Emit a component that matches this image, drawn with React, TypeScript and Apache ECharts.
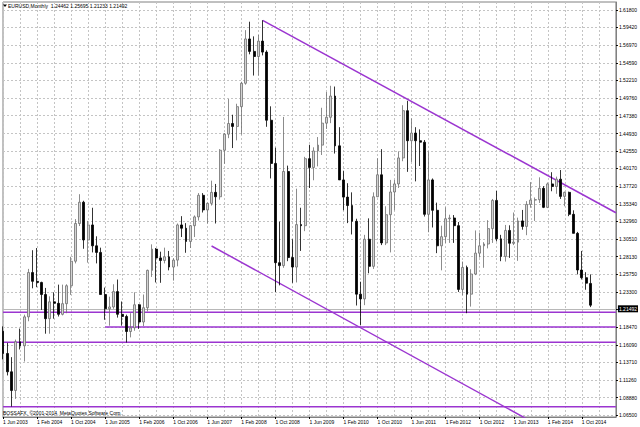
import React, { useEffect, useRef } from 'react';
import * as echarts from 'echarts';

const monthNames = ['Jan', 'Feb', 'Mar', 'Apr', 'May', 'Jun', 'Jul', 'Aug', 'Sep', 'Oct', 'Nov', 'Dec'];
// Monthly slots from Jun 2003 (incl. empty chart-shift slots after Dec 2014)
const categories: string[] = [];
for (let i = 0; i < 145; i++) {
  const m = (5 + i) % 12;
  const y = 2003 + Math.floor((5 + i) / 12);
  categories.push(`1 ${monthNames[m]} ${y}`);
}

const xTickLabels = ['1 Jun 2003', '1 Feb 2004', '1 Oct 2004', '1 Jun 2005', '1 Feb 2006', '1 Oct 2006', '1 Jun 2007', '1 Feb 2008', '1 Oct 2008', '1 Jun 2009', '1 Feb 2010', '1 Oct 2010', '1 Jun 2011', '1 Feb 2012', '1 Oct 2012', '1 Jun 2013', '1 Feb 2014', '1 Oct 2014'];
const yTickLabels = ['1.06500', '1.08880', '1.11260', '1.13710', '1.16090', '1.18470', '1.20920', '1.23300', '1.25750', '1.28130', '1.30510', '1.32960', '1.35340', '1.37720', '1.40170', '1.42550', '1.44930', '1.47380', '1.49760', '1.52210', '1.54590', '1.56970', '1.59420', '1.61800'];

const opens = [
  1.1795, 1.1490, 1.1240, 1.0985, 1.1650, 1.1595, 1.1990,
  1.2595, 1.2475, 1.2460, 1.2295, 1.1965, 1.2195, 1.2175, 1.2025, 1.2170, 1.2415, 1.2750, 1.3265,
  1.3555, 1.3040, 1.3245, 1.2960, 1.2870, 1.2295, 1.2100, 1.2125, 1.2335, 1.2025, 1.1995, 1.1790,
  1.1840, 1.2155, 1.1920, 1.2115, 1.2625, 1.2915, 1.2795, 1.2760, 1.2810, 1.2670, 1.2765, 1.3245,
  1.3200, 1.3020, 1.3235, 1.3355, 1.3650, 1.3450, 1.3540, 1.3690, 1.3630, 1.4265, 1.4485, 1.4630,
  1.4590, 1.4860, 1.5180, 1.5785, 1.5615, 1.5545, 1.5755, 1.5605, 1.4675, 1.4085, 1.2730, 1.2690,
  1.3975, 1.2800, 1.2670, 1.3250, 1.3235, 1.4150, 1.4030, 1.4255, 1.4335, 1.4635, 1.4715, 1.5005,
  1.4325, 1.3860, 1.3625, 1.3510, 1.3295, 1.2300, 1.2235, 1.3050, 1.2680, 1.3630, 1.3930, 1.3000,
  1.3385, 1.3695, 1.3805, 1.4160, 1.4805, 1.4395, 1.4500, 1.4395, 1.4375, 1.3390, 1.3860, 1.3445,
  1.2960, 1.3085, 1.3330, 1.3340, 1.3235, 1.2365, 1.2665, 1.2300, 1.2575, 1.2860, 1.2960, 1.2985,
  1.3195, 1.3580, 1.3055, 1.2815, 1.3170, 1.2995, 1.3010, 1.3300, 1.3225, 1.3525, 1.3585, 1.3590,
  1.3745, 1.3485, 1.3805, 1.3770, 1.3870, 1.3635, 1.3690, 1.3390, 1.3130, 1.2630, 1.2525, 1.24462,
];
const highs = [
  1.1860, 1.1635, 1.1440, 1.1680, 1.1830, 1.2020, 1.2645,
  1.2900, 1.2930, 1.2470, 1.2385, 1.2270, 1.2325, 1.2430, 1.2430, 1.2435, 1.2810, 1.3325, 1.3665,
  1.3575, 1.3300, 1.3480, 1.3090, 1.2935, 1.2390, 1.2265, 1.2435, 1.2500, 1.2200, 1.2020, 1.2040,
  1.2325, 1.2165, 1.2295, 1.2635, 1.2980, 1.2930, 1.2880, 1.2935, 1.2890, 1.2790, 1.3265, 1.3365,
  1.3270, 1.3245, 1.3375, 1.3680, 1.3680, 1.3550, 1.3850, 1.3805, 1.4280, 1.4500, 1.4965, 1.4750,
  1.4900, 1.5200, 1.5905, 1.6020, 1.5820, 1.5840, 1.6040, 1.5630, 1.4865, 1.4300, 1.3290, 1.4720,
  1.4055, 1.3050, 1.3740, 1.3480, 1.4175, 1.4340, 1.4305, 1.4445, 1.4845, 1.5060, 1.5145, 1.5135,
  1.4580, 1.3980, 1.3815, 1.3690, 1.3330, 1.2470, 1.3110, 1.3335, 1.3690, 1.4155, 1.4280, 1.3500,
  1.3860, 1.3860, 1.4250, 1.4880, 1.4940, 1.4700, 1.4580, 1.4550, 1.4405, 1.4250, 1.3880, 1.3550,
  1.3235, 1.3485, 1.3385, 1.3380, 1.3285, 1.2745, 1.2690, 1.2640, 1.3170, 1.3140, 1.3010, 1.3310,
  1.3600, 1.3710, 1.3110, 1.3245, 1.3240, 1.3415, 1.3345, 1.3450, 1.3570, 1.3830, 1.3620, 1.3895,
  1.3775, 1.3825, 1.3965, 1.3905, 1.3995, 1.3700, 1.3700, 1.3445, 1.3150, 1.2890, 1.2600, 1.25695,
];
const lows = [
  1.1410, 1.1190, 1.0765, 1.0870, 1.1545, 1.1380, 1.1930,
  1.2380, 1.2395, 1.2085, 1.1760, 1.1760, 1.1965, 1.1995, 1.2010, 1.2040, 1.2290, 1.2720, 1.3230,
  1.2920, 1.2730, 1.2870, 1.2720, 1.2295, 1.1950, 1.1870, 1.2100, 1.1980, 1.1870, 1.1640, 1.1710,
  1.1800, 1.1825, 1.1865, 1.2065, 1.2535, 1.2460, 1.2455, 1.2720, 1.2625, 1.2485, 1.2680, 1.3080,
  1.2865, 1.2930, 1.3080, 1.3305, 1.3415, 1.3265, 1.3510, 1.3265, 1.3590, 1.4080, 1.4430, 1.4295,
  1.4400, 1.4480, 1.5160, 1.5575, 1.5285, 1.5285, 1.5560, 1.4585, 1.3880, 1.2330, 1.2420, 1.2660,
  1.2750, 1.2455, 1.2460, 1.2890, 1.3160, 1.3750, 1.3855, 1.4045, 1.4200, 1.4555, 1.4635, 1.4220,
  1.3860, 1.3445, 1.3270, 1.3115, 1.2145, 1.1875, 1.2150, 1.2585, 1.2645, 1.3625, 1.2970, 1.2970,
  1.2870, 1.3445, 1.3750, 1.4115, 1.3970, 1.4105, 1.3840, 1.4050, 1.3360, 1.3145, 1.3210, 1.2860,
  1.2625, 1.3000, 1.3000, 1.3000, 1.2330, 1.2285, 1.2040, 1.2130, 1.2560, 1.2800, 1.2660, 1.2925,
  1.3000, 1.3020, 1.2750, 1.2745, 1.2795, 1.2970, 1.2755, 1.3180, 1.3105, 1.3480, 1.3300, 1.3545,
  1.3475, 1.3475, 1.3705, 1.3670, 1.3600, 1.3500, 1.3365, 1.3130, 1.2570, 1.2500, 1.2360, 1.21233,
];
const closes = [
  1.1490, 1.1240, 1.0985, 1.1650, 1.1595, 1.1990, 1.2595,
  1.2475, 1.2460, 1.2295, 1.1965, 1.2195, 1.2175, 1.2025, 1.2170, 1.2415, 1.2750, 1.3265, 1.3555,
  1.3040, 1.3245, 1.2960, 1.2870, 1.2295, 1.2100, 1.2125, 1.2335, 1.2025, 1.1995, 1.1790, 1.1840,
  1.2155, 1.1920, 1.2115, 1.2625, 1.2915, 1.2795, 1.2760, 1.2810, 1.2670, 1.2765, 1.3245, 1.3200,
  1.3020, 1.3235, 1.3355, 1.3650, 1.3450, 1.3540, 1.3690, 1.3630, 1.4265, 1.4485, 1.4630, 1.4590,
  1.4860, 1.5180, 1.5785, 1.5615, 1.5545, 1.5755, 1.5605, 1.4675, 1.4085, 1.2730, 1.2690, 1.3975,
  1.2800, 1.2670, 1.3250, 1.3235, 1.4150, 1.4030, 1.4255, 1.4335, 1.4635, 1.4715, 1.5005, 1.4325,
  1.3860, 1.3625, 1.3510, 1.3295, 1.2300, 1.2235, 1.3050, 1.2680, 1.3630, 1.3930, 1.3000, 1.3385,
  1.3695, 1.3805, 1.4160, 1.4805, 1.4395, 1.4500, 1.4395, 1.4375, 1.3390, 1.3860, 1.3445, 1.2960,
  1.3085, 1.3330, 1.3340, 1.3235, 1.2365, 1.2665, 1.2300, 1.2575, 1.2860, 1.2960, 1.2985, 1.3195,
  1.3580, 1.3055, 1.2815, 1.3170, 1.2995, 1.3010, 1.3300, 1.3225, 1.3525, 1.3585, 1.3590, 1.3745,
  1.3485, 1.3805, 1.3770, 1.3870, 1.3635, 1.3690, 1.3390, 1.3130, 1.2630, 1.2525, 1.2450, 1.21492,
];

// Drawn objects: [slot index, price]
const trendTop = [[61, 1.6038], [144, 1.3412]];
const trendBottom = [[49, 1.2958], [125, 1.0534]];
const levelLines = [
  [[0, 1.2053], [144, 1.2053]],
  [[24, 1.1852], [144, 1.1852]],
  [[0, 1.1643], [144, 1.1643]],
  [[0, 1.0764], [144, 1.0764]],
];

const PURPLE = '#9b35d0';
const FONT = 'Liberation Sans';

export default function App() {
  const ref = useRef<HTMLDivElement>(null);
  useEffect(() => {
    if (!ref.current) return;
    const chart = echarts.init(ref.current, null, { renderer: 'svg' });
    const candleData = opens.map((o, i) => [o, closes[i], lows[i], highs[i]]);
    const yTickValues = yTickLabels.map(Number);
    const last = candleData.length - 1;
    const header = `EURUSD,Monthly  ${opens[last].toFixed(5)} ${highs[last].toFixed(5)} ${lows[last].toFixed(5)} ${closes[last].toFixed(5)}`;
    const lineSeries = (data: number[][]) => ({
      type: 'line',
      data,
      symbol: 'none',
      silent: true,
      clip: true,
      lineStyle: { color: PURPLE, width: 1.5 },
      z: 4,
    });
    chart.setOption({
      animation: false,
      backgroundColor: '#ffffff',
      textStyle: { fontFamily: FONT },
      grid: { left: 1.8, right: 23, top: 2, bottom: 10, show: true, borderColor: '#808080', borderWidth: 1 },
      xAxis: {
        type: 'category',
        data: categories,
        boundaryGap: false,
        axisLine: { show: true, lineStyle: { color: '#808080' } },
        axisTick: { show: true, length: 2, interval: (i: number, v: string) => xTickLabels.includes(v), lineStyle: { color: '#000' } },
        axisLabel: {
          interval: (i: number, v: string) => xTickLabels.includes(v),
          align: 'left',
          fontSize: 5,
          color: '#000',
          margin: 2,
          fontFamily: FONT,
        },
        splitLine: { show: true, interval: (i: number) => i % 4 === 0, lineStyle: { color: '#c4c4c4', type: [2, 2], width: 1 } },
      },
      yAxis: {
        type: 'value',
        position: 'right',
        min: 1.06227,
        max: 1.62892,
        axisLine: { show: true, lineStyle: { color: '#808080' } },
        axisTick: { show: true, length: 2, customValues: yTickValues, lineStyle: { color: '#000' } },
        axisLabel: {
          customValues: yTickValues,
          formatter: (v: number) => v.toFixed(5),
          fontSize: 5,
          color: '#000',
          margin: 3,
          fontFamily: FONT,
        },
        splitLine: { show: true, lineStyle: { color: '#c4c4c4', type: [2, 2], width: 1 } },
      },
      series: [
        {
          type: 'candlestick',
          data: candleData,
          barWidth: 2.4,
          silent: true,
          itemStyle: { color: '#d4d4d4', color0: '#000000', borderColor: '#6e6e6e', borderColor0: '#000000', borderWidth: 0.8 },
          markLine: {
            symbol: 'none',
            silent: true,
            data: [{ yAxis: closes[last] }],
            lineStyle: { color: '#b8b8b8', type: 'solid', width: 1 },
            label: {
              show: true,
              position: 'end',
              formatter: closes[last].toFixed(5),
              color: '#ffffff',
              backgroundColor: '#000000',
              fontSize: 5,
              fontFamily: FONT,
              padding: [1, 1],
              distance: 2,
            },
            z: 3,
          },
          z: 5,
        },
        lineSeries(trendTop),
        lineSeries(trendBottom),
        ...levelLines.map((l) => lineSeries(l)),
      ],
      graphic: [
        { type: 'polygon', shape: { points: [[3, 4.5], [7, 4.5], [5, 7]] }, style: { fill: '#000' }, z: 10 },
        { type: 'text', left: 8, top: 3, style: { text: header, fontSize: 5, fill: '#000', fontFamily: FONT }, z: 10 },
        { type: 'text', left: 3, top: 410.5, style: { text: 'BOSSAFX, ©2001-2014, MetaQuotes Software Corp.', fontSize: 5, fill: '#000', fontFamily: FONT }, z: 10 },
      ],
    });
    return () => chart.dispose();
  }, []);
  return <div ref={ref} style={{ position: 'fixed', left: 0, top: 0, width: 640, height: 427 }} />;
}
